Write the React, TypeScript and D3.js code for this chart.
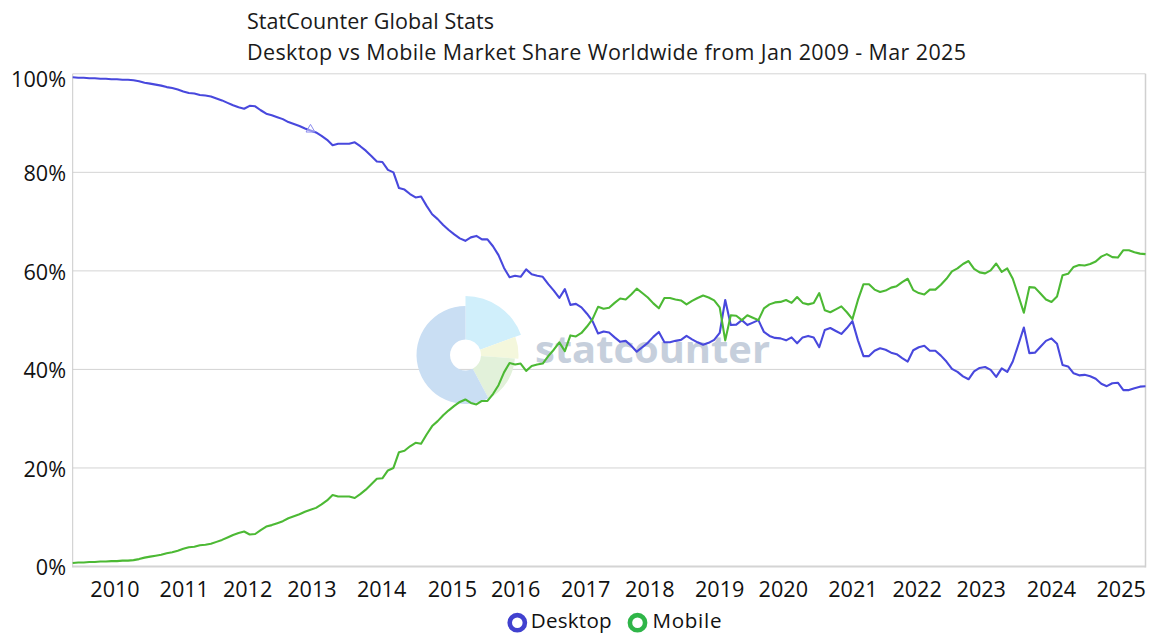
import React from 'react';
import * as d3 from 'd3';

// ---- data (monthly, Jan 2009 .. Mar 2025) ----
const titleLines = [
  'StatCounter Global Stats',
  'Desktop vs Mobile Market Share Worldwide from Jan 2009 - Mar 2025',
];

const desktop = [
  99.3, 99.2, 99.2, 99.1, 99.1, 99.0, 99.0, 98.9, 98.9, 98.8,
  98.8, 98.7, 98.5, 98.2, 98.0, 97.8, 97.6, 97.3, 97.1, 96.8,
  96.4, 96.1, 96.0, 95.7, 95.6, 95.4, 95.0, 94.6, 94.1, 93.6,
  93.2, 92.9, 93.5, 93.4, 92.6, 91.9, 91.6, 91.2, 90.8, 90.2,
  89.8, 89.4, 88.9, 88.5, 88.1, 87.4, 86.6, 85.5, 85.8, 85.8,
  85.8, 86.1, 85.3, 84.4, 83.3, 82.2, 82.1, 80.5, 80.0, 76.8,
  76.5, 75.6, 74.9, 75.1, 73.2, 71.5, 70.5, 69.3, 68.3, 67.4,
  66.6, 66.1, 66.8, 67.1, 66.4, 66.4, 65.0, 63.2, 60.6, 58.7,
  59.0, 58.8, 60.3, 59.3, 59.0, 58.8, 57.3, 56.0, 54.5, 56.3,
  53.1, 53.3, 52.6, 51.3, 49.8, 47.3, 47.7, 47.5, 46.5, 45.6,
  45.8, 44.8, 43.6, 44.5, 45.4, 46.6, 47.6, 45.5, 45.5, 45.8,
  46.0, 46.8, 46.1, 45.5, 45.0, 45.4, 46.0, 47.4, 54.1, 49.0,
  49.1, 50.0, 49.0, 49.5, 50.0, 47.6, 46.8, 46.4, 46.3, 45.9,
  46.5, 45.3, 46.5, 46.8, 46.5, 44.5, 48.0, 48.4, 47.8, 47.2,
  48.4, 49.8, 45.9, 42.7, 42.7, 43.8, 44.3, 44.0, 43.4, 43.1,
  42.3, 41.6, 43.9, 44.5, 44.8, 43.8, 43.8, 42.8, 41.6, 40.1,
  39.5, 38.6, 38.0, 39.6, 40.3, 40.5, 39.9, 38.5, 40.2, 39.5,
  41.6, 45.0, 48.5, 43.3, 43.4, 44.6, 45.8, 46.3, 45.2, 40.9,
  40.6, 39.2, 38.8, 38.9, 38.6, 38.1, 37.1, 36.6, 37.2, 37.3,
  35.8, 35.8, 36.2, 36.5, 36.6,
];

const mobile = [
  0.7, 0.8, 0.8, 0.9, 0.9, 1.0, 1.0, 1.1, 1.1, 1.2,
  1.2, 1.3, 1.5, 1.8, 2.0, 2.2, 2.4, 2.7, 2.9, 3.2,
  3.6, 3.9, 4.0, 4.3, 4.4, 4.6, 5.0, 5.4, 5.9, 6.4,
  6.8, 7.1, 6.5, 6.6, 7.4, 8.1, 8.4, 8.8, 9.2, 9.8,
  10.2, 10.6, 11.1, 11.5, 11.9, 12.6, 13.4, 14.5, 14.2, 14.2,
  14.2, 13.9, 14.7, 15.6, 16.7, 17.8, 17.9, 19.5, 20.0, 23.2,
  23.5, 24.4, 25.1, 24.9, 26.8, 28.5, 29.5, 30.7, 31.7, 32.6,
  33.4, 33.9, 33.2, 32.9, 33.6, 33.6, 35.0, 36.8, 39.4, 41.3,
  41.0, 41.2, 39.7, 40.7, 41.0, 41.2, 42.7, 44.0, 45.5, 43.7,
  46.9, 46.7, 47.4, 48.7, 50.2, 52.7, 52.3, 52.5, 53.5, 54.4,
  54.2, 55.2, 56.4, 55.5, 54.6, 53.4, 52.4, 54.5, 54.5, 54.2,
  54.0, 53.2, 53.9, 54.5, 55.0, 54.6, 54.0, 52.6, 45.9, 51.0,
  50.9, 50.0, 51.0, 50.5, 50.0, 52.4, 53.2, 53.6, 53.7, 54.1,
  53.5, 54.7, 53.5, 53.2, 53.5, 55.5, 52.0, 51.6, 52.2, 52.8,
  51.6, 50.2, 54.1, 57.3, 57.3, 56.2, 55.7, 56.0, 56.6, 56.9,
  57.7, 58.4, 56.1, 55.5, 55.2, 56.2, 56.2, 57.2, 58.4, 59.9,
  60.5, 61.4, 62.0, 60.4, 59.7, 59.5, 60.1, 61.5, 59.8, 60.5,
  58.4, 55.0, 51.5, 56.7, 56.6, 55.4, 54.2, 53.7, 54.8, 59.1,
  59.4, 60.8, 61.2, 61.1, 61.4, 61.9, 62.9, 63.4, 62.8, 62.7,
  64.2, 64.2, 63.8, 63.5, 63.4,
];

const yTicks = [0, 20, 40, 60, 80, 100];
const xTickLabels = ['2010', '2011', '2012', '2013', '2014', '2015', '2016', '2017',
  '2018', '2019', '2020', '2021', '2022', '2023', '2024', '2025'];
// positions of the year labels, in month-index units along the axis
const xTickPositions = [7.65, 20.17, 31.63, 43.26, 55.86, 68.65, 80.09, 92.75,
  104.36, 117.0, 128.5, 141.1, 152.7, 164.3, 177.0, 189.6];
const seriesNames = ['Desktop', 'Mobile'];
const markerIndex = 43;

const FONT = "'Open Sans', 'Noto Sans', sans-serif";

export default function App() {
  const W = 1149;
  const H = 634;
  const left = 72.7;
  const right = 1145.5;
  const top = 73.8;
  const bottom = 566.5;

  const x = d3.scaleLinear().domain([0, desktop.length - 1]).range([left, right]);
  const y = d3.scaleLinear().domain([0, 100]).range([bottom, top]);

  const line = d3
    .line<number>()
    .x((_, i) => x(i))
    .y((d) => y(d))
    .curve(d3.curveLinear);

  const series = [
    { name: seriesNames[0], values: desktop, color: '#4848dd', legend: '#4141cf' },
    { name: seriesNames[1], values: mobile, color: '#4cb934', legend: '#2fb548' },
  ];

  // watermark logo
  const cx = 465.5;
  const cy = 355;
  const deg = Math.PI / 180;
  const segs = [
    { a0: 0, a1: 70, r: 59, fill: '#d0effb' },
    { a0: 70, a1: 94, r: 53, fill: '#f4f7dc' },
    { a0: 94, a1: 152, r: 49.5, fill: '#e2f1da' },
    { a0: 152, a1: 360, r: 49, fill: '#c9def3' },
  ];
  const arc = d3.arc<any>();

  const tri = d3.symbol(d3.symbolTriangle, 34)();

  const legendItems = [
    { cx: 517.3, tx: 530.7, w: 81 },
    { cx: 637.5, tx: 652.5, w: 69 },
  ];

  return (
    <svg
      width={W}
      height={H}
      viewBox={`0 0 ${W} ${H}`}
      style={{ position: 'absolute', left: 0, top: 0, display: 'block', background: '#fff' }}
      fontFamily={FONT}
    >
      <rect x={0} y={0} width={W} height={H} fill="#fff" />

      {/* title */}
      <text x={247} y={29} fontSize={21.5} fill="#1a1a1a" textLength={247} lengthAdjust="spacing">{titleLines[0]}</text>
      <text x={247} y={60} fontSize={21.5} fill="#1a1a1a" textLength={719} lengthAdjust="spacing">{titleLines[1]}</text>

      {/* grid */}
      {yTicks.map((t) => (
        <line key={t} x1={left} x2={right} y1={y(t)} y2={y(t)} stroke="#d4d4d4" strokeWidth={t === 0 ? 2.2 : 1} />
      ))}
      <line x1={left} x2={left} y1={top} y2={bottom + 1} stroke="#cacaca" strokeWidth={1} />
      <line x1={right} x2={right} y1={top} y2={bottom + 1} stroke="#d0d0d0" strokeWidth={1.5} />

      {/* y labels */}
      {yTicks.map((t) => (
        <text key={t} x={66} y={y(t) + (t === 100 ? 13.5 : 8.7)} textAnchor="end" fontSize={21.6} fill="#111">
          {t}%
        </text>
      ))}

      {/* x labels */}
      {xTickLabels.map((lab, i) => (
        <text key={lab} x={x(xTickPositions[i])} y={596.5} textAnchor="middle" fontSize={21.6} fill="#111">
          {lab}
        </text>
      ))}

      {/* watermark */}
      <g>
        {segs.map((s, i) => (
          <path
            key={i}
            transform={`translate(${cx},${cy})`}
            d={arc({ innerRadius: 15.5, outerRadius: s.r, startAngle: s.a0 * deg, endAngle: s.a1 * deg }) || ''}
            fill={s.fill}
          />
        ))}
        <text x={535} y={363} fontSize={38} fontWeight={700} fill="#c6cfdc" textLength={235} lengthAdjust="spacingAndGlyphs">
          statcounter
        </text>
      </g>

      {/* lines */}
      {series.map((s) => (
        <path key={s.name} d={line(s.values) || ''} fill="none" stroke={s.color} strokeWidth={2.1} strokeLinejoin="round" />
      ))}

      {/* annotation marker */}
      <path
        d={tri || ''}
        transform={`translate(${x(markerIndex)},${y(desktop[markerIndex]) - 1})`}
        fill="#fff"
        fillOpacity={0.4}
        stroke="#8a8aee"
        strokeWidth={1}
      />

      {/* legend */}
      {series.map((s, i) => (
        <g key={s.name}>
          <circle cx={legendItems[i].cx} cy={622.7} r={7.6} fill="none" stroke={s.legend} strokeWidth={4.6} />
          <text x={legendItems[i].tx} y={628.3} fontSize={20.6} fill="#111" textLength={legendItems[i].w} lengthAdjust="spacing">{s.name}</text>
        </g>
      ))}
    </svg>
  );
}
